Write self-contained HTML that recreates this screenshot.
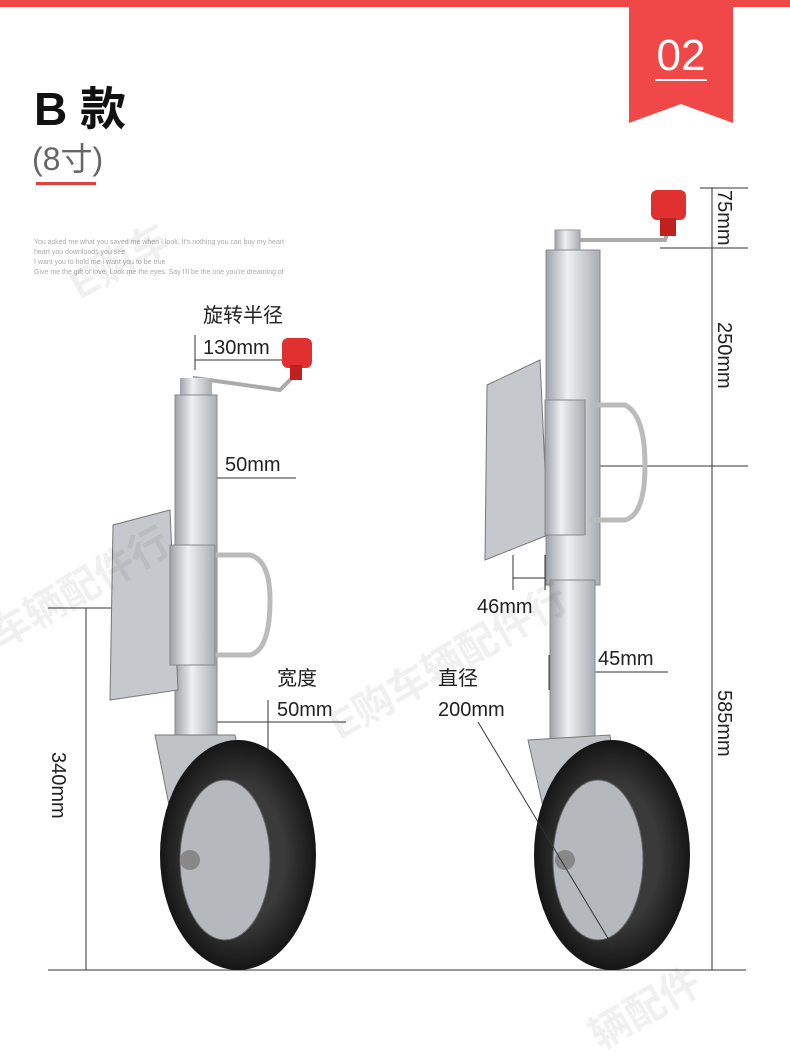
<!DOCTYPE html>
<html><head><meta charset="utf-8"><style>
body{margin:0;width:790px;height:1057px;background:#fff;overflow:hidden;font-family:"Liberation Sans","Noto Sans CJK SC",sans-serif;}
</style></head><body>
<svg width="790" height="1057" viewBox="0 0 790 1057" xmlns="http://www.w3.org/2000/svg" font-family="Liberation Sans, Noto Sans CJK SC, sans-serif">
<defs>
<linearGradient id="tube" x1="0" x2="1"><stop offset="0" stop-color="#9ea3a8"/><stop offset="0.4" stop-color="#eef0f2"/><stop offset="1" stop-color="#a9adb2"/></linearGradient>
<radialGradient id="tire"><stop offset="0.6" stop-color="#3a3a3a"/><stop offset="1" stop-color="#151515"/></radialGradient>
</defs>
<rect x="0" y="0" width="790" height="7" fill="#f04848"/>
<polygon points="629,0 733,0 733,123 681,104 629,123" fill="#f04848"/>
<text x="681" y="70" font-size="44" fill="#fff" text-anchor="middle">02</text>
<rect x="655" y="79" width="52" height="2" fill="#fff"/>
<text x="34" y="125" font-size="46" font-weight="bold" fill="#111">B 款</text>
<text x="32" y="170" font-size="32" fill="#666">(8寸)</text>
<rect x="36" y="182" width="60" height="3" fill="#e04040"/>
<g font-size="7" fill="#aaa"><text x="34" y="244">You asked me what you saved me when I look. It's nothing you can buy my heart</text><text x="34" y="254">heart you downloads you see</text><text x="34" y="264">I want you to hold me i want you to be true</text><text x="34" y="274">Give me the gift of love. Look me the eyes. Say I'll be the one you're dreaming of</text></g>
<g stroke="#333" stroke-width="1" fill="none">
<line x1="48" y1="970" x2="746" y2="970"/>
<line x1="86" y1="608" x2="86" y2="970"/>
<line x1="48" y1="608" x2="150" y2="608"/>
<line x1="712" y1="188" x2="712" y2="970"/>
<line x1="700" y1="188" x2="748" y2="188"/>
<line x1="660" y1="248" x2="748" y2="248"/>
<line x1="530" y1="466" x2="748" y2="466"/>
<line x1="195" y1="335" x2="195" y2="370"/>
<line x1="195" y1="360" x2="285" y2="360"/>
<line x1="175" y1="460" x2="175" y2="495"/><line x1="215" y1="460" x2="215" y2="495"/><line x1="175" y1="478" x2="296" y2="478"/>
<line x1="208" y1="722" x2="346" y2="722"/><line x1="208" y1="700" x2="208" y2="760"/><line x1="268" y1="700" x2="268" y2="760"/>
<line x1="513" y1="555" x2="513" y2="590"/><line x1="545" y1="555" x2="545" y2="590"/><line x1="513" y1="578" x2="545" y2="578"/>
<line x1="549" y1="655" x2="549" y2="690"/><line x1="593" y1="655" x2="593" y2="690"/><line x1="549" y1="672" x2="668" y2="672"/>
</g>
<g font-size="20" fill="#222">
<text x="203" y="322">旋转半径</text><text x="203" y="354">130mm</text>
<text x="225" y="471">50mm</text>
<text x="277" y="685">宽度</text><text x="277" y="716">50mm</text>
<text x="438" y="685">直径</text><text x="438" y="716">200mm</text>
<text x="477" y="613">46mm</text>
<text x="598" y="665">45mm</text>
<text transform="translate(52,752) rotate(90)">340mm</text>
<text transform="translate(718,190) rotate(90)">75mm</text>
<text transform="translate(718,322) rotate(90)">250mm</text>
<text transform="translate(718,690) rotate(90)">585mm</text>
</g>
<g>
<path d="M195,385 L195,378 L280,390 L292,378" stroke="#aaa" stroke-width="4" fill="none"/>
<rect x="282" y="338" width="30" height="30" rx="6" fill="#e03030"/><rect x="290" y="365" width="12" height="15" fill="#c02020"/>
<rect x="180" y="378" width="32" height="20" fill="url(#tube)"/>
<rect x="175" y="395" width="42" height="340" fill="url(#tube)" stroke="#888"/>
<polygon points="113,525 170,510 178,690 110,700" fill="#c5c8cc" stroke="#777"/>
<path d="M210,555 L250,555 Q270,560 270,600 Q270,650 250,655 L210,655" stroke="#bbb" stroke-width="5" fill="none"/>
<rect x="170" y="545" width="45" height="120" fill="url(#tube)" stroke="#888"/>
<path d="M155,735 L235,735 L240,760 L205,880 L180,860 Z" fill="#c0c3c6" stroke="#777"/>
<ellipse cx="238" cy="855" rx="78" ry="115" fill="url(#tire)"/>
<ellipse cx="225" cy="860" rx="45" ry="80" fill="#b5b8bc" stroke="#666"/>
<circle cx="190" cy="860" r="10" fill="#888"/>
</g>
<g>
<path d="M568,240 L665,240 L670,225" stroke="#aaa" stroke-width="4" fill="none"/>
<rect x="651" y="190" width="35" height="30" rx="6" fill="#e03030"/><rect x="660" y="218" width="16" height="18" fill="#c02020"/>
<rect x="555" y="230" width="25" height="25" fill="url(#tube)" stroke="#999"/>
<rect x="546" y="250" width="54" height="335" fill="url(#tube)" stroke="#888"/>
<rect x="550" y="580" width="45" height="160" fill="url(#tube)" stroke="#888"/>
<polygon points="487,385 540,360 548,535 485,560" fill="#c5c8cc" stroke="#777"/>
<path d="M590,405 L625,405 Q645,415 645,465 Q645,515 625,520 L590,520" stroke="#bbb" stroke-width="5" fill="none"/>
<rect x="545" y="400" width="40" height="135" fill="url(#tube)" stroke="#888"/>
<path d="M528,740 L610,735 L612,760 L580,880 L555,860 Z" fill="#c0c3c6" stroke="#777"/>
<ellipse cx="612" cy="855" rx="78" ry="115" fill="url(#tire)"/>
<ellipse cx="598" cy="860" rx="45" ry="80" fill="#b5b8bc" stroke="#666"/>
<circle cx="565" cy="860" r="10" fill="#888"/>
</g>
<line x1="478" y1="722" x2="612" y2="945" stroke="#333" stroke-width="1"/>
<g font-size="40" font-weight="bold" fill="#000" opacity="0.06">
<text transform="translate(0,650) rotate(-30)">车辆配件行</text>
<text transform="translate(340,740) rotate(-30)">E购车辆配件行</text>
<text transform="translate(80,300) rotate(-30)">E购车</text>
<text transform="translate(600,1050) rotate(-30)">辆配件</text>
</g>
</svg>
</body></html>
